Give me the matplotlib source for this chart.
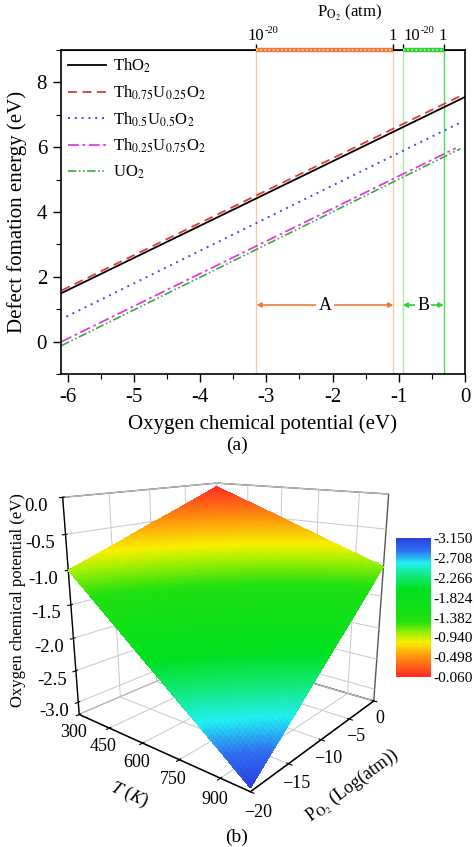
import numpy as np
import matplotlib
matplotlib.use('Agg')
import matplotlib.pyplot as plt
from matplotlib.colors import LinearSegmentedColormap, Normalize
from matplotlib.cm import ScalarMappable
from matplotlib.transforms import blended_transform_factory
from mpl_toolkits.mplot3d import Axes3D  # noqa

plt.rcParams['font.family'] = ['Liberation Serif', 'DejaVu Serif']
plt.rcParams['mathtext.fontset'] = 'stix'

# ---------------- (a) data ----------------
series_labels = [r'ThO$_2$', r'Th$_{0.75}$U$_{0.25}$O$_2$', r'Th$_{0.5}$U$_{0.5}$O$_2$',
                 r'Th$_{0.25}$U$_{0.75}$O$_2$', r'UO$_2$']
x_start = [-6.09, -6.09, -6.02, -6.09, -6.09]
x_end = [0.0, 0.0, -0.07, -0.14, -0.07]
y_start = [1.50, 1.58, 0.77, 0.0, -0.12]
y_end = [7.55, 7.65, 6.76, 5.97, 5.95]
region_A = [-3.15, -1.08]
region_B = [-0.94, -0.32]
top_tick_pos = [-3.15, -1.08, -0.94, -0.32]
top_tick_base = ['10', '1', '10', '1']
top_tick_exp = ['-20', '', '-20', '']

# ---------------- (b) data ----------------
T_vals = [300, 450, 600, 750, 900, 1000]
logP_vals = [-20, -15, -10, -5, 0]
mu_grid = [
    [-1.00, -0.77, -0.53, -0.30, -0.06],
    [-1.46, -1.16, -0.87, -0.57, -0.27],
    [-1.92, -1.56, -1.20, -0.84, -0.48],
    [-2.38, -1.96, -1.54, -1.12, -0.70],
    [-2.84, -2.36, -1.88, -1.39, -0.91],
    [-3.15, -2.63, -2.10, -1.58, -1.05],
]
cbar_ticks = [-3.150, -2.708, -2.266, -1.824, -1.382, -0.940, -0.498, -0.060]

colors = ['black', '#e23a3a', '#4a4ad8', '#e03ae0', '#3aaa3a']
styles = ['-', (0, (5, 3)), (0, (1, 2.5)), (0, (6, 2, 1.5, 2)), (0, (5, 1.5, 1, 1.5, 1, 1.5))]
widths = [1.3, 1.3, 1.4, 1.3, 1.2]

fig = plt.figure(figsize=(4.74, 8.47), dpi=100)

# ---------------- (b) first (kept behind panel a) ----------------
cnodes = [(0.0, '#2a40e0'), (0.09, '#3070f0'), (0.18, '#20f0f0'), (0.28, '#10e870'),
          (0.37, '#00e020'), (0.60, '#20e010'), (0.70, '#b0f000'), (0.75, '#f8f000'),
          (0.88, '#ff8010'), (1.0, '#ff2a25')]
cmap = LinearSegmentedColormap.from_list('origin_rainbow', cnodes)
norm = Normalize(vmin=cbar_ticks[0], vmax=cbar_ticks[-1])

T_arr = np.array(T_vals, float)
P_arr = np.array(logP_vals, float)
M = np.array(mu_grid, float)
# subdivide the read grid for smooth rendering
Tf = np.linspace(T_arr[0], T_arr[-1], 71)
Pf = np.linspace(P_arr[0], P_arr[-1], 61)
Mi = np.array([np.interp(Pf, P_arr, row) for row in M])
Mf = np.array([np.interp(Tf, T_arr, Mi[:, j]) for j in range(len(Pf))]).T
TT, PP = np.meshgrid(Tf, Pf, indexing='ij')

ax3 = fig.add_axes([0.085, 0.055, 0.78, 0.445], projection='3d')
ax3.patch.set_visible(False)
ax3.set_proj_type('persp', focal_length=0.3)
ax3.plot_surface(TT, PP, Mf, facecolors=cmap(norm(Mf)), rstride=1, cstride=1,
                 linewidth=0, antialiased=False, shade=False)
ax3.set_xlim(T_vals[0], T_vals[-1])
ax3.set_ylim(logP_vals[0], logP_vals[-1])
ax3.set_zlim(-3.2, 0)
ax3.view_init(elev=16, azim=-51)
ax3.set_box_aspect((1, 1, 1.0))
ax3.set_xticks([300, 450, 600, 750, 900])
ax3.set_yticks([-20, -15, -10, -5, 0])
ax3.set_zticks([-3.0, -2.5, -2.0, -1.5, -1.0, -0.5, 0.0])
ax3.set_zticklabels(['-3.0', '-2.5', '-2.0', '-1.5', '-1.0', '-0.5', '0.0'])
for a in (ax3.xaxis, ax3.yaxis, ax3.zaxis):
    a.set_pane_color((1, 1, 1, 1))
    a.pane.set_edgecolor('#555555')
    a._axinfo['grid']['color'] = '#c8c8c8'
    a._axinfo['grid']['linewidth'] = 0.7
    a.line.set_color('black')
    a.line.set_linewidth(1.0)
ax3.zaxis.set_ticks_position('lower')
ax3.zaxis.set_label_position('lower')
ax3.tick_params(labelsize=13)
ax3.xaxis.set_tick_params(pad=-3)
ax3.yaxis.set_tick_params(pad=-3)
ax3.zaxis.set_tick_params(pad=2.5, labelsize=13.5)
ax3.set_xlabel(r'$T$ ($K$)', fontsize=13, labelpad=-1)
ax3.set_ylabel(r'P$_{\mathrm{O_2}}$ (Log(atm))', fontsize=13, labelpad=1)
fig.text(18 / 474, 1 - 600 / 847, 'Oxygen chemical potential (eV)', rotation=90,
         ha='center', va='center', fontsize=12)

cax = fig.add_axes([0.835, 1 - 677 / 847, 0.074, 139 / 847])
cb = fig.colorbar(ScalarMappable(norm=norm, cmap=cmap), cax=cax)
cb.set_ticks(cbar_ticks)
cb.set_ticklabels(['%.3f' % v for v in cbar_ticks])
cax.invert_yaxis()
cb.outline.set_visible(False)
cax.tick_params(length=0, labelsize=11, pad=2)

fig.text(0.5, 1 - 837 / 847, '(b)', ha='center', va='center', fontsize=14)

# ---------------- (a) ----------------
ax = fig.add_axes([0.1287, 0.5584, 0.8523, 0.3826])
for i in range(len(series_labels)):
    ax.plot([x_start[i], x_end[i]], [y_start[i], y_end[i]], color=colors[i],
            linestyle=styles[i], lw=widths[i], label=series_labels[i])

orange_l = '#f8c8a8'
green_l = '#a8eca8'
ax.axvline(region_A[0], color=orange_l, lw=1.0, zorder=0)
ax.axvline(region_A[1], color=orange_l, lw=1.0, zorder=0)
ax.axvline(region_B[0], color=green_l, lw=1.0, zorder=0)
ax.axvline(region_B[1], color='#50e050', lw=1.0, zorder=0)

ax.set_xlim(-6.1, 0)
ax.set_ylim(-1, 9)

# arrows
arrow_y = 1.13
ax.annotate('', xy=(region_A[0], arrow_y), xytext=(region_A[1], arrow_y),
            arrowprops=dict(arrowstyle='<|-|>', color='#f07a3a', lw=1.2, mutation_scale=7,
                            shrinkA=0, shrinkB=0))
ax.text(np.mean(region_A), arrow_y, 'A', ha='center', va='center', fontsize=13,
        bbox=dict(facecolor='white', edgecolor='none', pad=1.5))
ax.annotate('', xy=(region_B[0], arrow_y), xytext=(region_B[1], arrow_y),
            arrowprops=dict(arrowstyle='<|-|>', color='#30d030', lw=1.2, mutation_scale=7,
                            shrinkA=0, shrinkB=0))
ax.text(np.mean(region_B), arrow_y, 'B', ha='center', va='center', fontsize=13,
        bbox=dict(facecolor='white', edgecolor='none', pad=1.5))

# top bands
ylim_top = ax.get_ylim()[1]
ax.plot(region_A, [ylim_top, ylim_top], color='#f07a3a', lw=3.2, clip_on=False, solid_capstyle='butt', zorder=5)
ax.plot(region_A, [ylim_top, ylim_top], color='#fbd0b0', lw=1.2, ls=(0, (1, 1.5)), clip_on=False, zorder=6)
ax.plot(region_B, [ylim_top, ylim_top], color='#30d030', lw=3.2, clip_on=False, solid_capstyle='butt', zorder=5)
ax.plot(region_B, [ylim_top, ylim_top], color='#b8f0b8', lw=1.2, ls=(0, (1, 1.5)), clip_on=False, zorder=6)

ax.set_xticks([-6, -5, -4, -3, -2, -1, 0])
ax.set_xticklabels(['-6', '-5', '-4', '-3', '-2', '-1', '0'])
ax.set_xticks(np.arange(-6, 0.01, 0.5), minor=True)
ax.set_yticks([0, 2, 4, 6, 8])
ax.set_yticks(np.arange(-1, 9.01, 1), minor=True)
ax.tick_params(axis='both', which='major', direction='out', length=6, width=1.0, labelsize=15, pad=4)
ax.tick_params(axis='both', which='minor', direction='out', length=3.5, width=0.8)
for s in ax.spines.values():
    s.set_linewidth(1.2)
ax.set_xlabel('Oxygen chemical potential (eV)', fontsize=15, labelpad=5)
ax.set_ylabel('Defect fomation energy (eV)', fontsize=15, labelpad=7)

# top P_O2 axis
sec = ax.secondary_xaxis('top')
sec.set_ticks(top_tick_pos)
sec.set_xticklabels([''] * len(top_tick_pos))
sec.tick_params(direction='out', length=4, width=1.0)
trans = blended_transform_factory(ax.transData, ax.transAxes)
base_dx = [-6.5, -0.5, 0.5, -0.5]
for pos, base, ex, dx in zip(top_tick_pos, top_tick_base, top_tick_exp, base_dx):
    if ex:
        t = ax.annotate(base, xy=(pos, 1.0), xycoords=trans, xytext=(dx, 4),
                        textcoords='offset points', ha='left', va='bottom', fontsize=12)
        ax.annotate(ex, xy=(1.0, 0.6), xycoords=t, xytext=(0.5, 0),
                    textcoords='offset points', ha='left', va='bottom', fontsize=7.5)
    else:
        ax.annotate(base, xy=(pos, 1.0), xycoords=trans, xytext=(dx, 4),
                    textcoords='offset points', ha='center', va='bottom', fontsize=12)
fig.text(350 / 474, 1 - 13 / 847, r'P$_{\mathrm{O_2}}$ (atm)', ha='center', va='center', fontsize=12)

leg = ax.legend(loc='upper left', frameon=False, fontsize=12, handlelength=2.3,
                labelspacing=0.5, borderaxespad=0.0, handletextpad=0.4)

fig.text(237 / 474, 1 - 445 / 847, '(a)', ha='center', va='center', fontsize=14)

fig.savefig('out.png', dpi=100)
